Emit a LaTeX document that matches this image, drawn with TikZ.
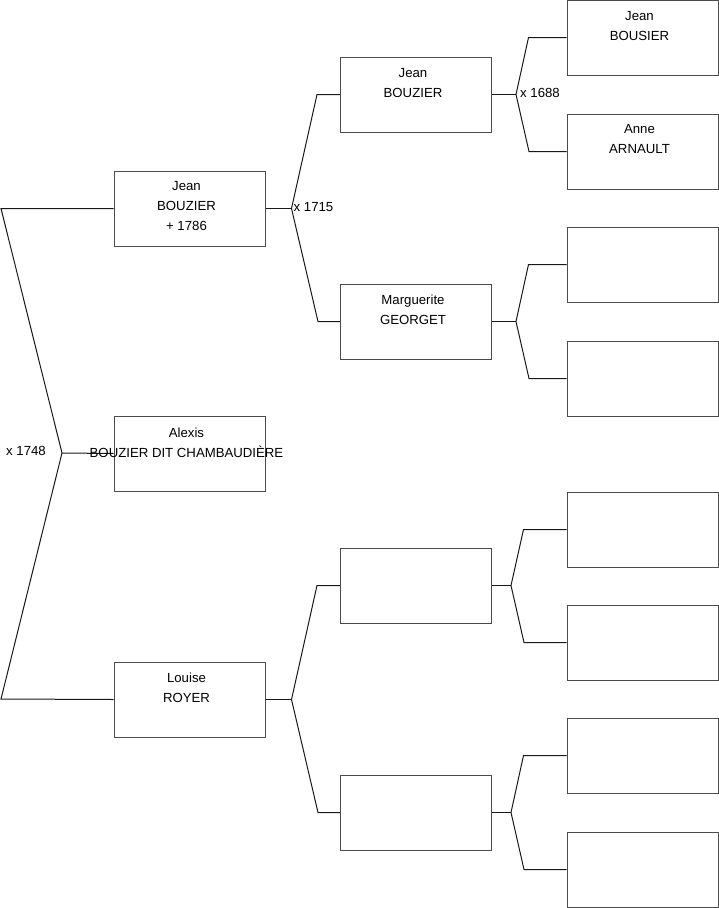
\documentclass[tikz,border=0pt]{standalone}
\usepackage{fontspec}
\setsansfont{Liberation Sans}
\usetikzlibrary{positioning}

\begin{document}
\begin{tikzpicture}[
  x=1pt, y=-1pt,
  box/.style={draw=black!70, line width=1pt, minimum width=151pt, minimum height=75pt, inner sep=0pt},
  txt/.style={align=center, inner sep=0pt, xshift=-3pt, font=\sffamily\fontsize{13.2}{20}\selectfont},
  lab/.style={inner sep=0pt, font=\sffamily\fontsize{13.2}{15}\selectfont},
  link/.style={draw=black!90, line width=1pt}
]
\useasboundingbox (0,0) rectangle (719,908);

% Generation 1
\node[box] (jean1) at (189.5,208.5) {};
\node[box] (alexis) at (189.5,453.5) {};
\node[box] (louise) at (189.5,699.5) {};

% Generation 2
\node[box] (jean2) at (416,94.5) {};
\node[box] (marg) at (416,321.5) {};
\node[box] (gen2c) at (416,585.5) {};
\node[box] (gen2d) at (416,812.5) {};

% Generation 3
\node[box] (jean3) at (642.5,37.5) {};
\node[box] (anne) at (642.5,151.5) {};
\node[box] (gen3c) at (642.5,264.5) {};
\node[box] (gen3d) at (642.5,378.5) {};
\node[box] (gen3e) at (642.5,529.5) {};
\node[box] (gen3f) at (642.5,642.5) {};
\node[box] (gen3g) at (642.5,755.5) {};
\node[box] (gen3h) at (642.5,869.5) {};

% Fork of the main couple
\coordinate (m0) at (62,453);
\coordinate (top0) at (1,208.5);
\coordinate (bot0) at (1,699);
\draw[link] (alexis.west) -- (m0);
\draw[link] (jean1.west) -- (top0) -- (m0) -- (bot0) -- (louise.west);
\node[lab, anchor=east] (x1748) at (46,451) {x 1748};

% Forks to generation 2
\draw[link] (jean1.east) -- ++(26,0) coordinate (m1);
\draw[link] (jean2.west) -- ++(-23,0) -- (m1) -- (318,321.5) -- (marg.west);
\node[lab, anchor=west] (x1715) at ([xshift=2pt,yshift=1pt]m1) {x 1715};
\draw[link] (louise.east) -- ++(26,0) coordinate (m2);
\draw[link] (gen2c.west) -- ++(-23,0) -- (m2) -- (318,812.5) -- (gen2d.west);

% Forks to generation 3
\draw[link] (jean2.east) -- ++(24,0) coordinate (m3);
\draw[link] (jean3.west) -- ++(-38,0) -- (m3) -- (529,151.5) -- (anne.west);
\node[lab, anchor=west] (x1688) at ([xshift=4pt,yshift=2pt]m3) {x 1688};
\draw[link] (marg.east) -- ++(24,0) coordinate (m4);
\draw[link] (gen3c.west) -- ++(-38,0) -- (m4) -- (529,378.5) -- (gen3d.west);
\draw[link] (gen2c.east) -- ++(19,0) coordinate (m5);
\draw[link] (gen3e.west) -- ++(-43,0) -- (m5) -- (524,642.5) -- (gen3f.west);
\draw[link] (gen2d.east) -- ++(19,0) coordinate (m6);
\draw[link] (gen3g.west) -- ++(-43,0) -- (m6) -- (524,869.5) -- (gen3h.west);

% Names
\node[txt, below=11pt of jean1.north] (jean1t) {Jean\\BOUZIER\\+ 1786};
\node[txt, below=12.5pt of alexis.north] (alexist) {Alexis\\BOUZIER DIT CHAMBAUDIÈRE};
\node[txt, below=11pt of louise.north] (louiset) {Louise\\ROYER};
\node[txt, below=11.5pt of jean2.north] (jean2t) {Jean\\BOUZIER};
\node[txt, below=11pt of marg.north] (margt) {Marguerite\\GEORGET};
\node[txt, below=11.5pt of jean3.north] (jean3t) {Jean\\BOUSIER};
\node[txt, below=11pt of anne.north] (annet) {Anne\\ARNAULT};
\end{tikzpicture}
\end{document}
